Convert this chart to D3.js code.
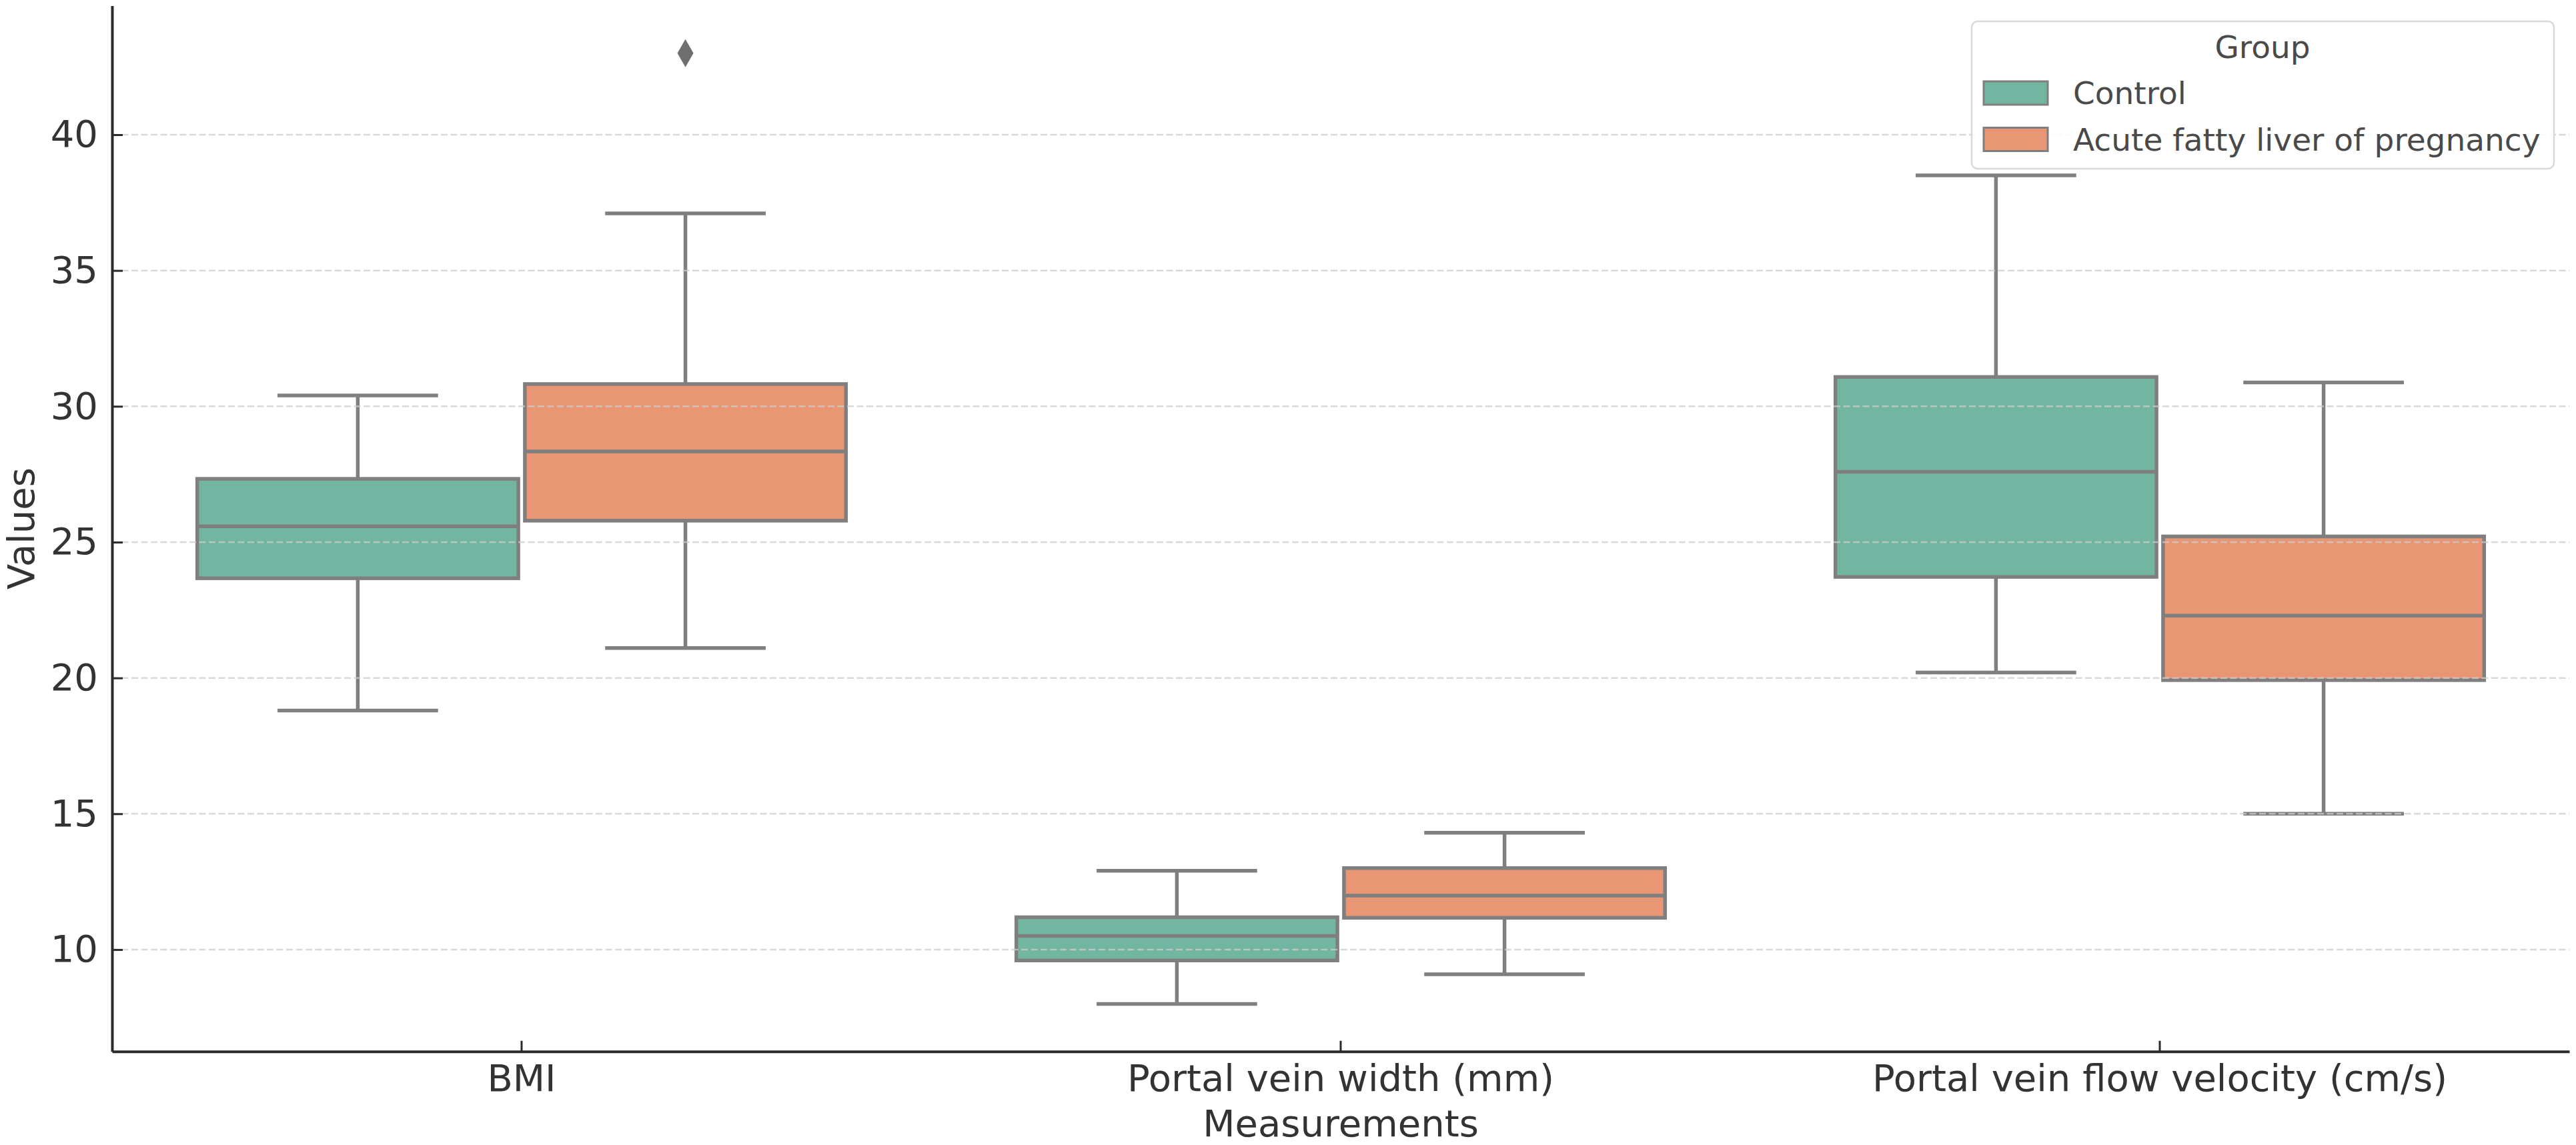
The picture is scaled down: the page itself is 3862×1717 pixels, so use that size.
<!DOCTYPE html>
<html>
<head>
<meta charset="utf-8">
<script src="https://cdn.jsdelivr.net/npm/d3@7"></script>
<style>
  html, body { margin: 0; padding: 0; background: #fff; }
  svg { display: block; font-family: "DejaVu Sans", sans-serif; }
</style>
</head>
<body>
<svg id="chart" width="3862" height="1717"></svg>
<script>
// ---- data ----
const categories = ["BMI", "Portal vein width (mm)", "Portal vein flow velocity (cm/s)"];
const groups = ["Control", "Acute fatty liver of pregnancy"];
const groupColors = ["#72b6a1", "#e99675"];
// box statistics per category (whisker low, Q1, median, Q3, whisker high)
const controlLow    = [18.8, 8.0, 20.2];
const controlQ1     = [23.67, 9.6, 23.72];
const controlMedian = [25.58, 10.5, 27.59];
const controlQ3     = [27.33, 11.19, 31.08];
const controlHigh   = [30.4, 12.9, 38.5];
const aflpLow    = [21.1, 9.09, 15.0];
const aflpQ1     = [25.79, 11.17, 19.92];
const aflpMedian = [28.34, 11.99, 22.29];
const aflpQ3     = [30.82, 13.0, 25.21];
const aflpHigh   = [37.1, 14.3, 30.88];
const controlOutliers = [[], [], []];
const aflpOutliers = [[43.0], [], []];
const yTicks = [10, 15, 20, 25, 30, 35, 40];
const yDomain = [6.25, 44.75];

(function () {
// ---- build records ----
const boxes = [];
categories.forEach((c, i) => {
  boxes.push({cat: c, group: groups[0], color: groupColors[0], lo: controlLow[i], q1: controlQ1[i], med: controlMedian[i], q3: controlQ3[i], hi: controlHigh[i], out: controlOutliers[i]});
  boxes.push({cat: c, group: groups[1], color: groupColors[1], lo: aflpLow[i], q1: aflpQ1[i], med: aflpMedian[i], q3: aflpQ3[i], hi: aflpHigh[i], out: aflpOutliers[i]});
});

// ---- layout ----
const pLeft = 168, pRight = 3852, pTop = 8.5, pBottom = 1576.7;
const svg = d3.select("#chart");
const x = d3.scaleBand().domain(categories).range([pLeft, pRight]).padding(0);
const x1 = d3.scaleBand().domain(groups).range([0.1 * x.bandwidth(), 0.9 * x.bandwidth()]).padding(0);
const y = d3.scaleLinear().domain(yDomain).range([pBottom, pTop]);

const lineColor = "#7f7f7f";
const lw = 5.5;
const boxW = x1.bandwidth() * 0.98;
const capW = boxW * 0.5;

// ---- boxes ----
const g = svg.append("g");
const bg = g.selectAll("g.box").data(boxes).join("g").attr("class", "box");
bg.each(function(d) {
  const sel = d3.select(this);
  const cx = x(d.cat) + x1(d.group) + x1.bandwidth() / 2;
  sel.append("line").attr("x1", cx).attr("x2", cx).attr("y1", y(d.q3)).attr("y2", y(d.hi))
    .attr("stroke", lineColor).attr("stroke-width", lw);
  sel.append("line").attr("x1", cx).attr("x2", cx).attr("y1", y(d.q1)).attr("y2", y(d.lo))
    .attr("stroke", lineColor).attr("stroke-width", lw);
  [d.hi, d.lo].forEach(v => {
    sel.append("line").attr("x1", cx - capW / 2).attr("x2", cx + capW / 2).attr("y1", y(v)).attr("y2", y(v))
      .attr("stroke", lineColor).attr("stroke-width", lw);
  });
  sel.append("rect").attr("x", cx - boxW / 2).attr("width", boxW)
    .attr("y", y(d.q3)).attr("height", y(d.q1) - y(d.q3))
    .attr("fill", d.color).attr("stroke", lineColor).attr("stroke-width", lw);
  sel.append("line").attr("x1", cx - boxW / 2).attr("x2", cx + boxW / 2).attr("y1", y(d.med)).attr("y2", y(d.med))
    .attr("stroke", lineColor).attr("stroke-width", lw);
  d.out.forEach(v => {
    const py = y(v);
    sel.append("path")
      .attr("d", `M${cx},${py - 21} L${cx + 12},${py} L${cx},${py + 21} L${cx - 12},${py} Z`)
      .attr("fill", "#6f6f6f");
  });
});

// ---- grid (drawn above boxes, semi-transparent) ----
svg.append("g").selectAll("line").data(yTicks).join("line")
  .attr("x1", pLeft).attr("x2", pRight)
  .attr("y1", d => y(d)).attr("y2", d => y(d))
  .attr("stroke", "#cccccc").attr("stroke-opacity", 0.75)
  .attr("stroke-width", 2.5).attr("stroke-dasharray", "10,4.5");

// ---- axes ----
const textColor = "#333333";
const yAxis = svg.append("g").attr("transform", `translate(${pLeft},0)`)
  .call(d3.axisLeft(y).tickValues(yTicks).tickFormat(d3.format("d")).tickSizeInner(-16).tickSizeOuter(0).tickPadding(21));
const xAxis = svg.append("g").attr("transform", `translate(0,${pBottom})`)
  .call(d3.axisBottom(x).tickSizeInner(-16).tickSizeOuter(0).tickPadding(20));
[yAxis, xAxis].forEach(a => {
  a.select(".domain").attr("stroke", "#2b2b2b").attr("stroke-width", 4);
  a.selectAll(".tick line").attr("stroke", "#2b2b2b").attr("stroke-width", 3);
  a.selectAll(".tick text").attr("fill", textColor).attr("font-size", 56)
    .attr("font-family", "DejaVu Sans");
});

svg.append("text").attr("x", (pLeft + pRight) / 2).attr("y", 1704)
  .attr("text-anchor", "middle").attr("font-size", 56).attr("fill", textColor).text("Measurements");
svg.append("text").attr("transform", `translate(51,${(pTop + pBottom) / 2}) rotate(-90)`)
  .attr("text-anchor", "middle").attr("font-size", 56).attr("fill", textColor).text("Values");

// ---- legend ----
const lg = svg.append("g");
lg.append("rect").attr("x", 2956).attr("y", 32).attr("width", 873).attr("height", 221)
  .attr("rx", 9).attr("fill", "#ffffff").attr("fill-opacity", 0.85)
  .attr("stroke", "#d9d9d9").attr("stroke-width", 2.5);
const legendText = "#4a4a4a";
lg.append("text").attr("x", 3392).attr("y", 87).attr("text-anchor", "middle")
  .attr("font-size", 47).attr("fill", legendText).text("Group");
const items = lg.selectAll("g.item").data(groups).join("g").attr("class", "item")
  .attr("transform", (d, i) => `translate(0,${i * 69.5})`);
items.append("rect").attr("x", 2974).attr("y", 122).attr("width", 96).attr("height", 35)
  .attr("fill", (d, i) => groupColors[i]).attr("stroke", lineColor).attr("stroke-width", 3);
items.append("text").attr("x", 3108).attr("y", 156).attr("font-size", 47)
  .attr("fill", legendText).text(d => d);
})();
</script>
</body>
</html>
